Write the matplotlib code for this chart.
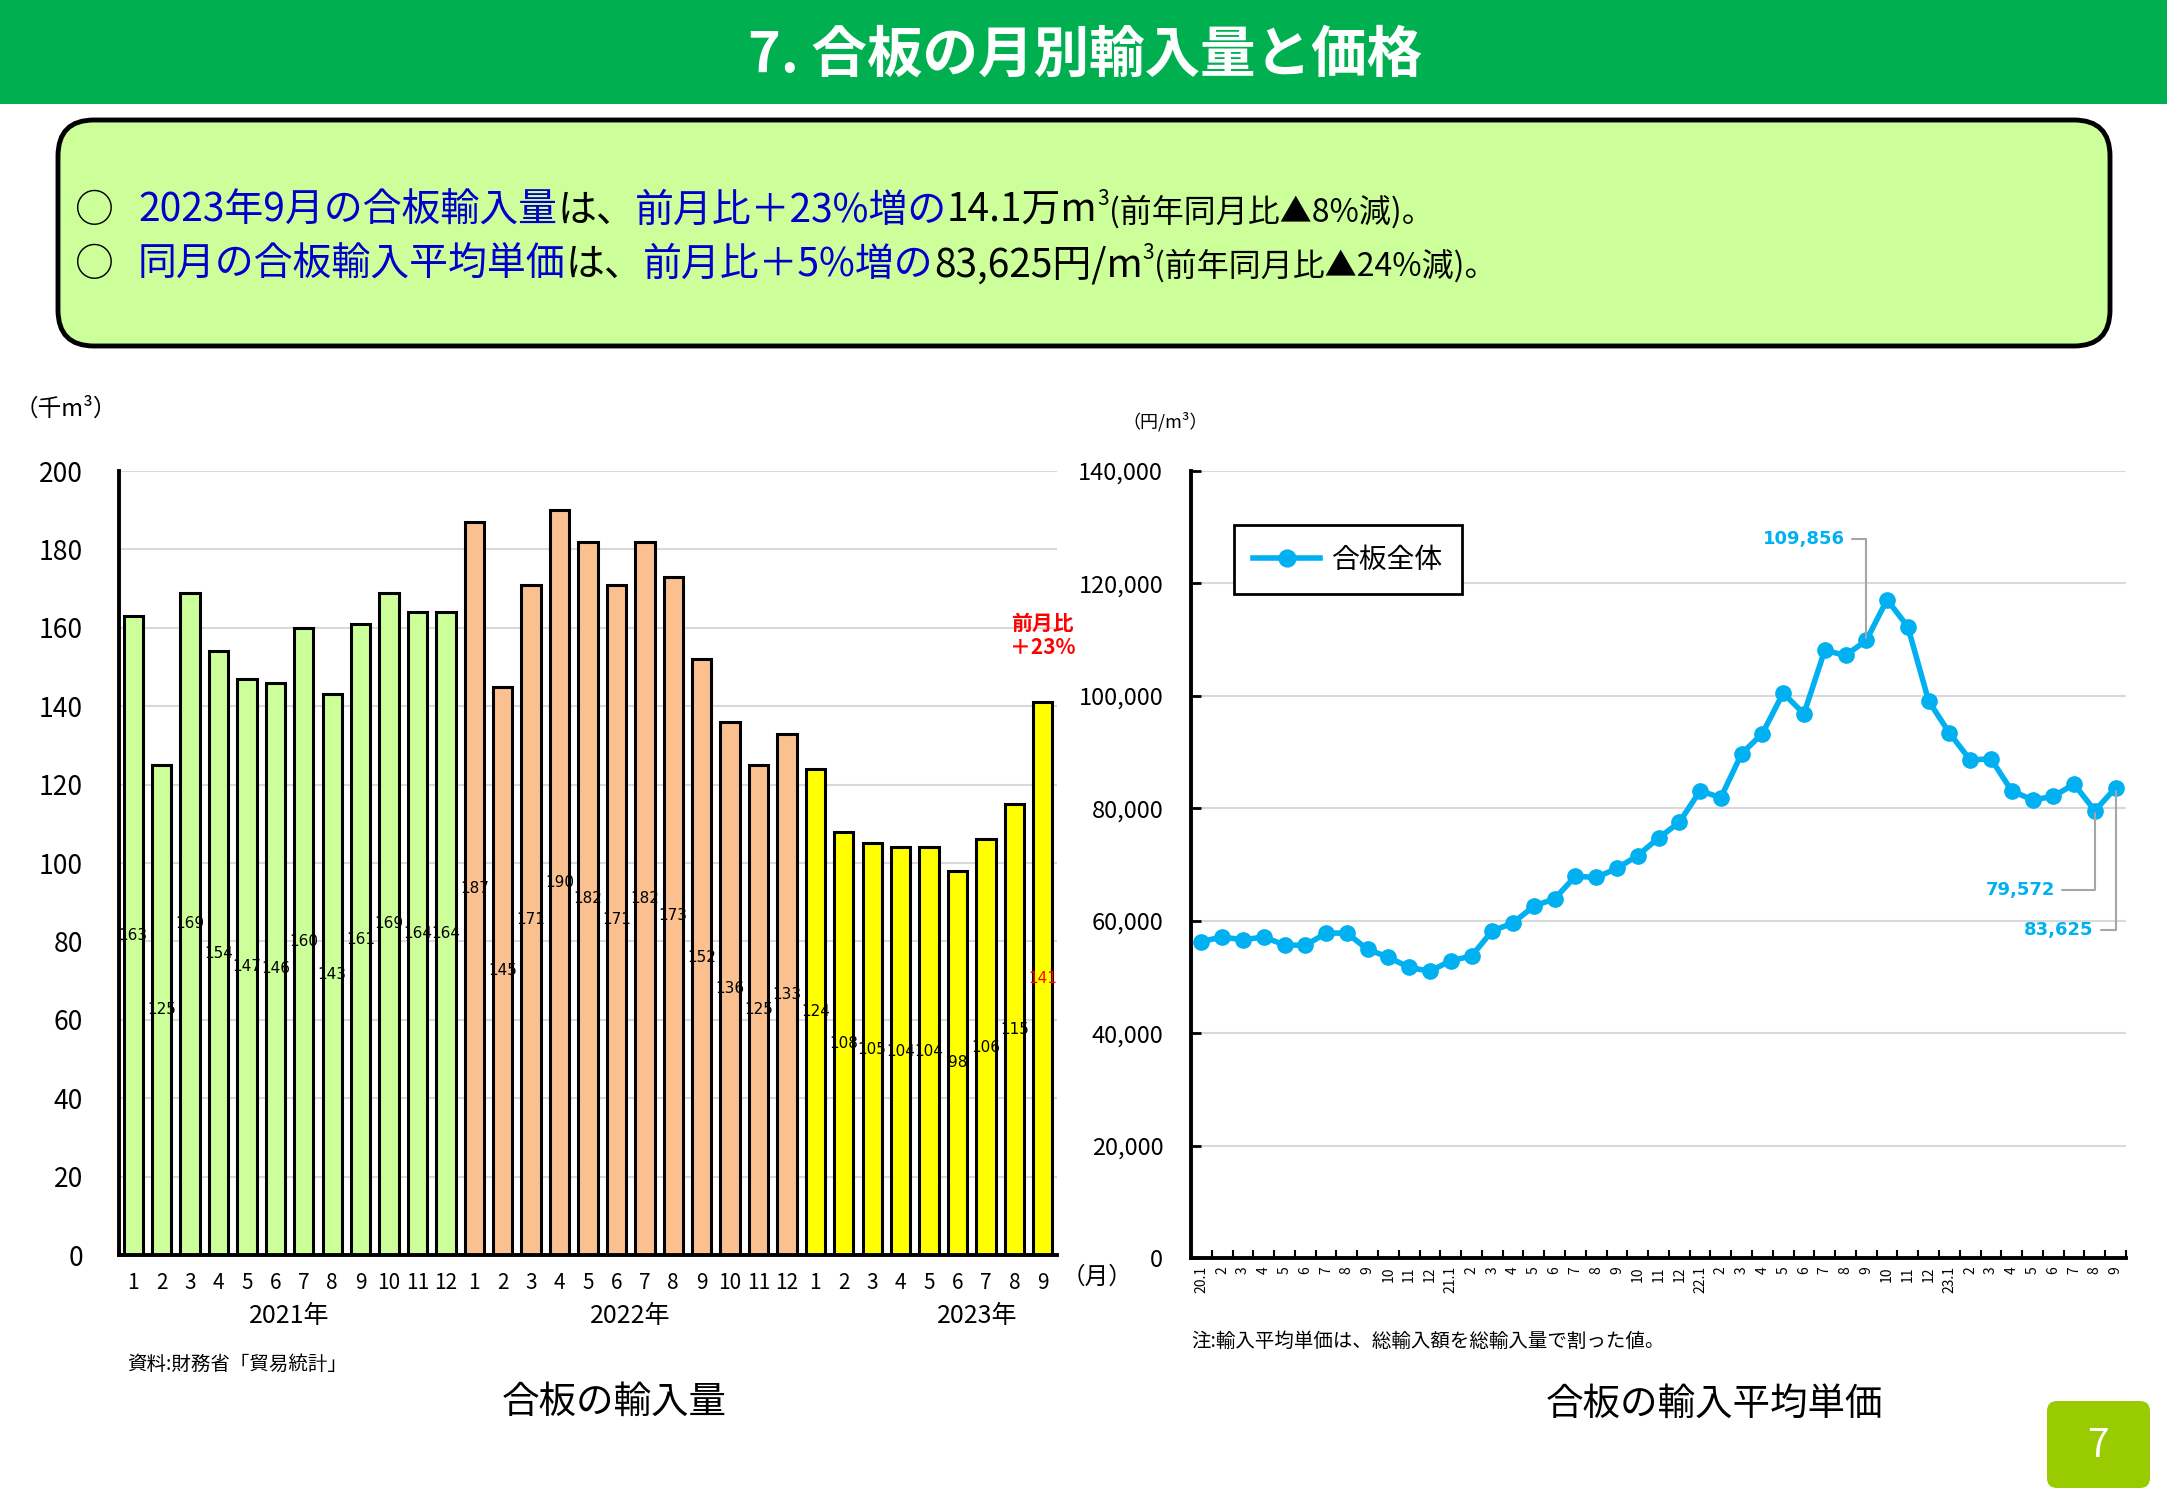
import matplotlib
matplotlib.use('Agg')
import matplotlib.pyplot as plt
from matplotlib.patches import FancyBboxPatch, Rectangle
import matplotlib.transforms as mtransforms

plt.rcParams['font.family'] = ['Noto Sans CJK JP', 'DejaVu Sans']

# ---- データ ----
# 合板の輸入量（千m3） 2021年1月〜2023年9月
months = [str(m) for m in range(1, 13)] * 2 + [str(m) for m in range(1, 10)]
years = ['2021年', '2022年', '2023年']
volume_2021 = [163, 125, 169, 154, 147, 146, 160, 143, 161, 169, 164, 164]
volume_2022 = [187, 145, 171, 190, 182, 171, 182, 173, 152, 136, 125, 133]
volume_2023 = [124, 108, 105, 104, 104, 98, 106, 115, 141]

# 合板の輸入平均単価（円/m3） 2020年1月〜2023年9月
price_labels = (['20.1'] + [str(m) for m in range(2, 13)] +
                ['21.1'] + [str(m) for m in range(2, 13)] +
                ['22.1'] + [str(m) for m in range(2, 13)] +
                ['23.1'] + [str(m) for m in range(2, 10)])
price = [56300, 57100, 56600, 57100, 55700, 55600, 57800, 57800, 54900, 53500, 51700, 51000,
         52900, 53700, 58200, 59600, 62600, 63900, 67900, 67700, 69300, 71600, 74700, 77500,
         83100, 81900, 89700, 93300, 100500, 96800, 108100, 107200, 109856, 117100, 112300, 99100,
         93400, 88600, 88800, 83100, 81500, 82100, 84300, 79572, 83625]

W, H = 2167, 1500
fig = plt.figure(figsize=(W / 100, H / 100), dpi=100)
fig.patch.set_facecolor('white')

# 背景（ピクセル座標）
bg = fig.add_axes([0, 0, 1, 1])
bg.set_xlim(0, W)
bg.set_ylim(H, 0)
bg.axis('off')

# ヘッダー
bg.add_patch(Rectangle((0, 0), W, 104, color='#00B050', lw=0))
bg.text(1085, 56, '7. 合板の月別輸入量と価格', color='white', fontsize=40,
        fontweight='bold', ha='center', va='center')

# 要約ボックス
bg.add_patch(FancyBboxPatch((58, 120), 2052, 226, boxstyle='round,pad=0,rounding_size=36',
                            facecolor='#CCFF99', edgecolor='black', lw=3.5))

blue = '#0000CC'
renderer = fig.canvas.get_renderer()


def draw_runs(x, y, runs):
    for s, color, size, dy in runs:
        t = bg.text(x, y - dy, s, color=color, fontsize=size, ha='left', va='baseline')
        x += t.get_window_extent(renderer).width
    return x


line1 = [('2023年9月の合板輸入量', blue, 28, 0), ('は、', 'black', 28, 0),
         ('前月比＋23%増の', blue, 28, 0), ('14.1万m', 'black', 28, 0),
         ('3', 'black', 15, 17), ('(前年同月比▲8%減)。', 'black', 23, 0)]
line2 = [('同月の合板輸入平均単価', blue, 28, 0), ('は、', 'black', 28, 0),
         ('前月比＋5%増の', blue, 28, 0), ('83,625円/m', 'black', 28, 0),
         ('3', 'black', 15, 17), ('(前年同月比▲24%減)。', 'black', 23, 0)]
bg.text(74, 222, '○', fontsize=28, ha='left', va='baseline')
bg.text(74, 276, '○', fontsize=28, ha='left', va='baseline')
draw_runs(138, 222, line1)
draw_runs(138, 276, line2)

# ---- 左：合板の輸入量 ----
volume = volume_2021 + volume_2022 + volume_2023
colors = (['#CCFF99'] * len(volume_2021) + ['#FAC090'] * len(volume_2022) +
          ['#FFFF00'] * len(volume_2023))
xs = list(range(len(volume)))

ax1 = fig.add_axes([119 / W, 1 - 1255 / H, (1057 - 119) / W, (1255 - 471) / H])
ax1.bar(xs, volume, width=0.68, color=colors, edgecolor='black', linewidth=2.2, zorder=3)
for i, v in enumerate(volume):
    c = 'red' if i == len(volume) - 1 else 'black'
    ax1.text(i, v / 2, str(v), ha='center', va='center', fontsize=11, color=c,
             family='DejaVu Sans', zorder=4)
ax1.set_xlim(-0.5, len(volume) - 0.5)
ax1.set_ylim(0, 200)
ax1.set_yticks(range(0, 201, 20))
ax1.set_xticks(xs)
ax1.set_xticklabels(months)
ax1.tick_params(axis='y', length=0, pad=26, labelsize=19)
ax1.tick_params(axis='x', length=0, pad=12, labelsize=15)
ax1.grid(axis='y', color='#D9D9D9', lw=1.5, zorder=0)
for s in ['top', 'right']:
    ax1.spines[s].set_visible(False)
for s in ['left', 'bottom']:
    ax1.spines[s].set_linewidth(2.8)
    ax1.spines[s].set_zorder(5)

trans1 = mtransforms.blended_transform_factory(ax1.transData, ax1.transAxes)
for yx, ylab in zip([5.5, 17.5, 29.7], years):
    ax1.text(yx, -0.078, ylab, transform=trans1, ha='center', va='center', fontsize=18)

ax1.text(len(volume) - 1, 158, '前月比\n＋23%', color='red', fontsize=15, fontweight='bold',
         ha='center', va='center', linespacing=1.15)

bg.text(66, 409, '（千m³）', fontsize=17, ha='center', va='center')
bg.text(1097, 1277, '（月）', fontsize=17, ha='center', va='center')
bg.text(127, 1364, '資料:財務省「貿易統計」', fontsize=14, ha='left', va='center')
bg.text(614, 1402, '合板の輸入量', fontsize=27, ha='center', va='center')

# ---- 右：合板の輸入平均単価 ----
px = list(range(len(price)))
ax2 = fig.add_axes([1191 / W, 1 - 1258 / H, (2126 - 1191) / W, (1258 - 471) / H])
ax2.plot(px, price, color='#00B0F0', lw=4, marker='o', ms=11, zorder=3, label='合板全体')
ax2.set_xlim(-0.5, len(price) - 0.5)
ax2.set_ylim(0, 140000)
ax2.set_yticks(range(0, 140001, 20000))
ax2.set_yticklabels([f'{v:,}' for v in range(0, 140001, 20000)])
ax2.set_xticks(px)
ax2.set_xticklabels(price_labels, rotation=90)
ax2.set_xticks([i - 0.5 for i in range(len(price) + 1)], minor=True)
ax2.tick_params(axis='y', direction='in', length=7, width=2, pad=20, labelsize=17)
ax2.tick_params(axis='x', which='major', length=0, pad=6, labelsize=10)
ax2.tick_params(axis='x', which='minor', direction='in', length=6, width=1.5)
ax2.grid(axis='y', color='#D9D9D9', lw=1.5, zorder=0)
for s in ['top', 'right']:
    ax2.spines[s].set_visible(False)
for s in ['left', 'bottom']:
    ax2.spines[s].set_linewidth(2.8)

leg = ax2.legend(loc='upper left', bbox_to_anchor=(0.046, 0.931), borderaxespad=0,
                 fontsize=20, fancybox=False, edgecolor='black', framealpha=1,
                 handlelength=2.4, handletextpad=0.4, borderpad=0.7, markerscale=1.1)
leg.get_frame().set_linewidth(2)

ann = [(32, 30.97, 127900), (43, 41.08, 65460), (44, 42.95, 58350)]
for idx, tx, ty in ann:
    ax2.annotate(f'{price[idx]:,}', xy=(idx, price[idx]), xytext=(tx, ty),
                 ha='right', va='center', fontsize=13, fontweight='bold', color='#00B0F0',
                 family='DejaVu Sans',
                 arrowprops=dict(arrowstyle='-', color='#A6A6A6', lw=1.5, shrinkA=3, shrinkB=2,
                                 connectionstyle='angle,angleA=0,angleB=90,rad=0'))

bg.text(1165, 422, '（円/m³）', fontsize=13, ha='center', va='center')
bg.text(1191, 1341, '注:輸入平均単価は、総輸入額を総輸入量で割った値。', fontsize=14,
        ha='left', va='center')
bg.text(1714, 1404, '合板の輸入平均単価', fontsize=27, ha='center', va='center')

# ページ番号
bg.add_patch(FancyBboxPatch((2047, 1401), 103, 87, boxstyle='round,pad=0,rounding_size=10',
                            facecolor='#99CC00', edgecolor='none'))
bg.text(2098, 1446, '7', color='white', fontsize=28, ha='center', va='center')

fig.savefig('out.png', dpi=100)
